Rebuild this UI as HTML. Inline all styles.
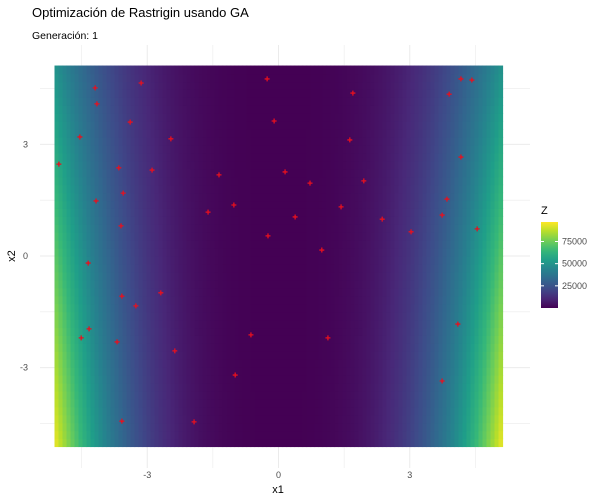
<!DOCTYPE html>
<html><head><meta charset="utf-8"><style>
body{margin:0;background:#fff;}
svg{display:block;font-family:"Liberation Sans",sans-serif;}
</style></head><body>
<svg id="chart" width="600" height="500">
<text x="32" y="17" font-size="13" fill="#000">Optimización de Rastrigin usando GA</text>
<text x="32" y="39" font-size="10.5" fill="#000">Generación: 1</text>
<g id="grid"></g>
<g id="heat"></g>
<g id="pts"></g>
<g id="axes"></g>
<text x="278" y="493" font-size="11" text-anchor="middle" fill="#000">x1</text>
<text x="0" y="0" font-size="11" text-anchor="middle" fill="#000" transform="translate(15,256) rotate(-90)">x2</text>
<defs><linearGradient id="vir" x1="0" y1="1" x2="0" y2="0"></linearGradient></defs>
<g>
<text x="541" y="214" font-size="11" fill="#000">Z</text>
<rect x="541" y="222" width="17" height="86" fill="url(#vir)"></rect>
<g id="leg"></g>
</g>
</svg>
<script>
const xTicks=[-3,0,3];
const yTicks=[-3,0,3];
const legendTicks=[25000,50000,75000];
const px=[-4.19,-4.15,-3.14,-3.39,-4.54,-5.02,-3.65,-2.89,-2.46,-4.17,-3.55,-3.60,-4.35,-1.61,-1.02,-1.36,-0.26,-0.10,-0.24,0.15,-3.58,-3.26,-2.69,-4.33,-4.51,-3.69,-2.37,-0.63,-0.99,-3.58,-1.93,1.70,1.63,0.72,1.95,1.43,0.38,2.37,3.03,0.99,4.17,4.42,3.90,4.17,3.85,3.74,4.54,1.13,4.10,3.74];
const py=[4.52,4.09,4.65,3.60,3.20,2.47,2.37,2.31,3.15,1.48,1.69,0.81,-0.19,1.18,1.37,2.18,4.76,3.63,0.54,2.26,-1.08,-1.34,-0.99,-1.96,-2.20,-2.31,-2.55,-2.12,-3.20,-4.44,-4.46,4.38,3.12,1.96,2.02,1.32,1.05,0.99,0.65,0.16,4.76,4.73,4.35,2.66,1.53,1.10,0.73,-2.20,-1.83,-3.36];
const zMin=0, zMax=97000;
const NS="http://www.w3.org/2000/svg";
const X=v=>278.5+v*43.75, Y=v=>256-v*37.2;
const ZY=z=>308-(z-zMin)/(zMax-zMin)*86;
const vstops=[[68,1,84],[72,40,120],[62,74,137],[49,104,142],[38,130,142],[31,158,137],[53,183,121],[110,206,88],[181,222,43],[253,231,37]];
function vir(t){t=Math.max(0,Math.min(1,t));const s=t*(vstops.length-1);const i=Math.min(vstops.length-2,Math.floor(s));const f=s-i;const a=vstops[i],b=vstops[i+1];return `rgb(${Math.round(a[0]+(b[0]-a[0])*f)},${Math.round(a[1]+(b[1]-a[1])*f)},${Math.round(a[2]+(b[2]-a[2])*f)})`;}
function surf(x,y){return Math.pow(Math.abs(x),3)*(540-33*y);}
function mk(tag,attrs,parent){const e=document.createElementNS(NS,tag);for(const k in attrs)e.setAttribute(k,attrs[k]);parent.appendChild(e);return e;}
const grid=document.getElementById('grid');
[-4.5,-3,-1.5,0,1.5,3,4.5].forEach(v=>{
 const l=mk('line',{x1:X(v),x2:X(v),y1:45,y2:468,stroke:'#ebebeb','stroke-width':v%1===0?1:0.6},grid);
 
 
 const m=mk('line',{x1:40,x2:530,y1:Y(v),y2:Y(v),stroke:'#ebebeb','stroke-width':v%1===0?1:0.6},grid);
 
 
});
const heat=document.getElementById('heat');
const NC=112,NR=48,x0=-5.12,x1=5.12,y0=-5.12,y1=5.12;
const dx=(x1-x0)/NC,dy=(y1-y0)/NR;
for(let i=0;i<NC;i++)for(let j=0;j<NR;j++){
 const cx=x0+(i+0.5)*dx,cy=y0+(j+0.5)*dy;
 const r=mk('rect',{x:X(x0+i*dx),y:Y(y0+(j+1)*dy),width:dx*43.75+0.6,height:dy*37.2+0.6,fill:vir((surf(cx,cy)-zMin)/(zMax-zMin))},heat);
 
 
}
const pts=document.getElementById('pts');
px.forEach((v,i)=>{
 const x=X(v),y=Y(py[i]);
 const p=mk('path',{d:`M${x-2.5},${y}H${x+2.5}M${x},${y-2.5}V${y+2.5}`,stroke:'#e8101e','stroke-width':1.3},pts);
 
 
});
const axes=document.getElementById('axes');
xTicks.forEach(v=>{const t=mk('text',{x:X(v),y:478,'font-size':9,'text-anchor':'middle',fill:'#4d4d4d'},axes);t.textContent=v;
 
 });
yTicks.forEach(v=>{const t=mk('text',{x:28,y:Y(v)+3,'font-size':9,'text-anchor':'end',fill:'#4d4d4d'},axes);t.textContent=v;
 
 });
const grad=document.getElementById('vir');
for(let k=0;k<=20;k++){mk('stop',{offset:k/20,'stop-color':vir(k/20)},grad);}
const leg=document.getElementById('leg');
legendTicks.forEach(v=>{
 const y=ZY(v);
 mk('line',{x1:541,x2:544,y1:y,y2:y,stroke:'#fff'},leg);
 mk('line',{x1:555,x2:558,y1:y,y2:y,stroke:'#fff'},leg);
 const t=mk('text',{x:562,y:y+3,'font-size':9,fill:'#4d4d4d'},leg);t.textContent=v;
 
 
});
</script>
</body></html>
